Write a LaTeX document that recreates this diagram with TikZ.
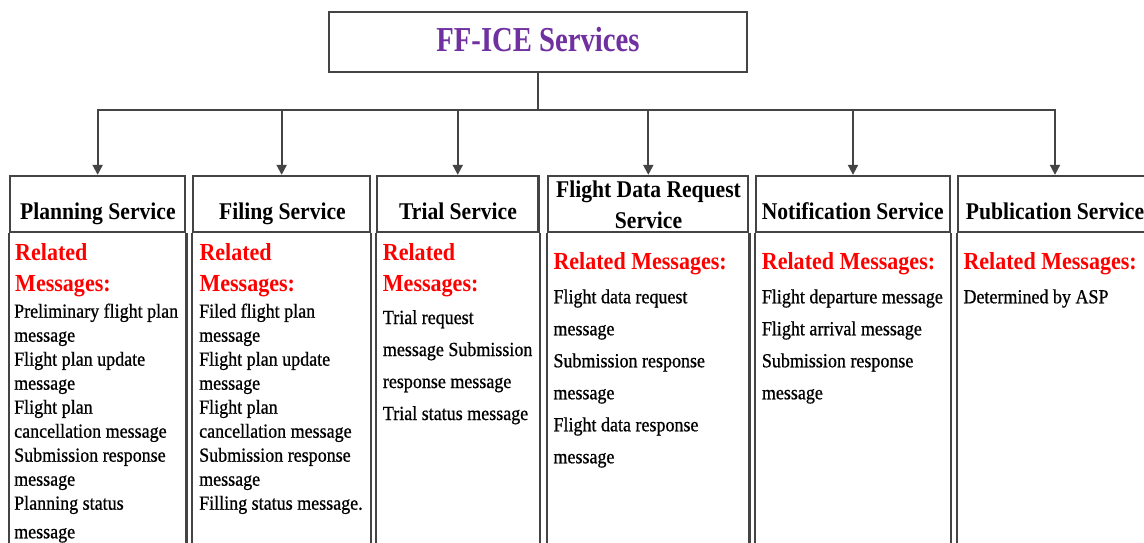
\documentclass[tikz,border=0pt]{standalone}
\usepackage{fontspec}
\setmainfont{Liberation Serif}[FakeStretch=0.9]
\newfontfamily\titlefont{Liberation Serif}[FakeStretch=0.82]
\newfontfamily\bodyfont{Liberation Serif}[FakeStretch=0.9,FakeBold=0.7]
\usetikzlibrary{arrows.meta}
\definecolor{edge}{HTML}{444444}
\definecolor{ttl}{HTML}{7030A0}
\definecolor{rel}{HTML}{FF0000}
\begin{document}
\begin{tikzpicture}[x=1pt,y=-1pt,
  box/.style={draw=edge, line width=2.3pt},
  hbox/.style={box, minimum height=55.7pt, inner sep=0pt},
  conn/.style={draw=edge, line width=1.9pt},
  arr/.style={conn, -{Triangle[length=10pt,width=10pt]}},
  htext/.style={anchor=base, inner sep=0pt, font=\fontsize{24}{29}\selectfont\bfseries},
  rtext/.style={anchor=base west, inner sep=0pt, text=rel, font=\fontsize{24.5}{29}\selectfont\bfseries},
  btext/.style={anchor=base west, inner sep=0pt, font=\bodyfont\fontsize{20}{24}\selectfont}]
\useasboundingbox (0,0) rectangle (1144,543);
\clip (0,0) rectangle (1144,543);
\fill[white] (0,0) rectangle (1144,543);

% root
\node[box, minimum width=417.4pt, minimum height=59.4pt, inner sep=0pt, text=ttl,
  font=\titlefont\fontsize{35}{40}\selectfont\bfseries, text height=23.4pt, text depth=4pt]
  (root) at (538,42) {FF-ICE Services};

% header boxes
\node[hbox, minimum width=175.3pt] (h1) at (97.65,203.85) {};
\node[hbox, minimum width=176.7pt] (h2) at (281.65,203.85) {};
\node[hbox, minimum width=161.5pt] (h3) at (457.75,203.85) {};
\node[hbox, minimum width=200pt] (h4) at (648.3,203.85) {};
\node[hbox, minimum width=194pt] (h5) at (853,203.85) {};
\node[hbox, minimum width=194pt] (h6) at (1055,203.85) {};

% body columns
\coordinate (bot) at (0,560);
\foreach \h in {h1,h2,h3,h4,h5,h6}
  \draw[box] (\h.south west) -- (\h.south west |- bot) -- (\h.south east |- bot) -- (\h.south east);

% connectors
\coordinate (bus) at (538,110);
\draw[conn] (root.south) -- (bus);
\foreach \h in {h1,h2,h3,h4,h5,h6}
  \draw[arr] (bus) -| (\h.north);

% header texts
\node[htext] (t1) at (97.9,219.3) {Planning Service};
\node[htext] (t2) at (282.5,219.3) {Filing Service};
\node[htext] (t3) at (458,219.3) {Trial Service};
\node[htext] (t4a) at (648.5,197.3) {Flight Data Request};
\node[htext] (t4b) at (648.5,228.3) {Service};
\node[htext] (t5) at (852.7,219.3) {Notification Service};
\node[htext] (t6) at (1055,219.3) {Publication Service};

% related messages
\node[rtext] (r1a) at (15,260.7) {Related};
\node[rtext] (r1b) at (15,291.7) {Messages:};
\node[rtext] (r2a) at (199.3,260.7) {Related};
\node[rtext] (r2b) at (199.3,291.7) {Messages:};
\node[rtext] (r3a) at (382.7,260.7) {Related};
\node[rtext] (r3b) at (382.7,291.7) {Messages:};
\node[rtext] (r4) at (553.3,269) {Related Messages:};
\node[rtext] (r5) at (761.7,269) {Related Messages:};
\node[rtext] (r6) at (963.3,269) {Related Messages:};

% message lists
\foreach \y/\t [count=\i] in {317.7/Preliminary flight plan, 341.7/message, 365.7/Flight plan update,
  389.7/message, 413.7/Flight plan, 437.7/cancellation message, 461.7/Submission response,
  485.7/message, 509.7/Planning status, 538.3/message}
  \node[btext] (m1-\i) at (14,\y) {\t};
\foreach \y/\t [count=\i] in {317.7/Filed flight plan, 341.7/message, 365.7/Flight plan update,
  389.7/message, 413.7/Flight plan, 437.7/cancellation message, 461.7/Submission response,
  485.7/message, 509.7/Filling status message.}
  \node[btext] (m2-\i) at (199,\y) {\t};
\foreach \y/\t [count=\i] in {324/Trial request, 356/message Submission, 388/response message,
  420/Trial status message}
  \node[btext] (m3-\i) at (382.7,\y) {\t};
\foreach \y/\t [count=\i] in {303.3/Flight data request, 335.3/message, 367.3/Submission response,
  399.3/message, 431.3/Flight data response, 463.3/message}
  \node[btext] (m4-\i) at (553.3,\y) {\t};
\foreach \y/\t [count=\i] in {303.3/Flight departure message, 335.3/Flight arrival message,
  367.3/Submission response, 399.3/message}
  \node[btext] (m5-\i) at (761.7,\y) {\t};
\node[btext] (m6-1) at (963.3,303.3) {Determined by ASP};
\end{tikzpicture}
\end{document}
